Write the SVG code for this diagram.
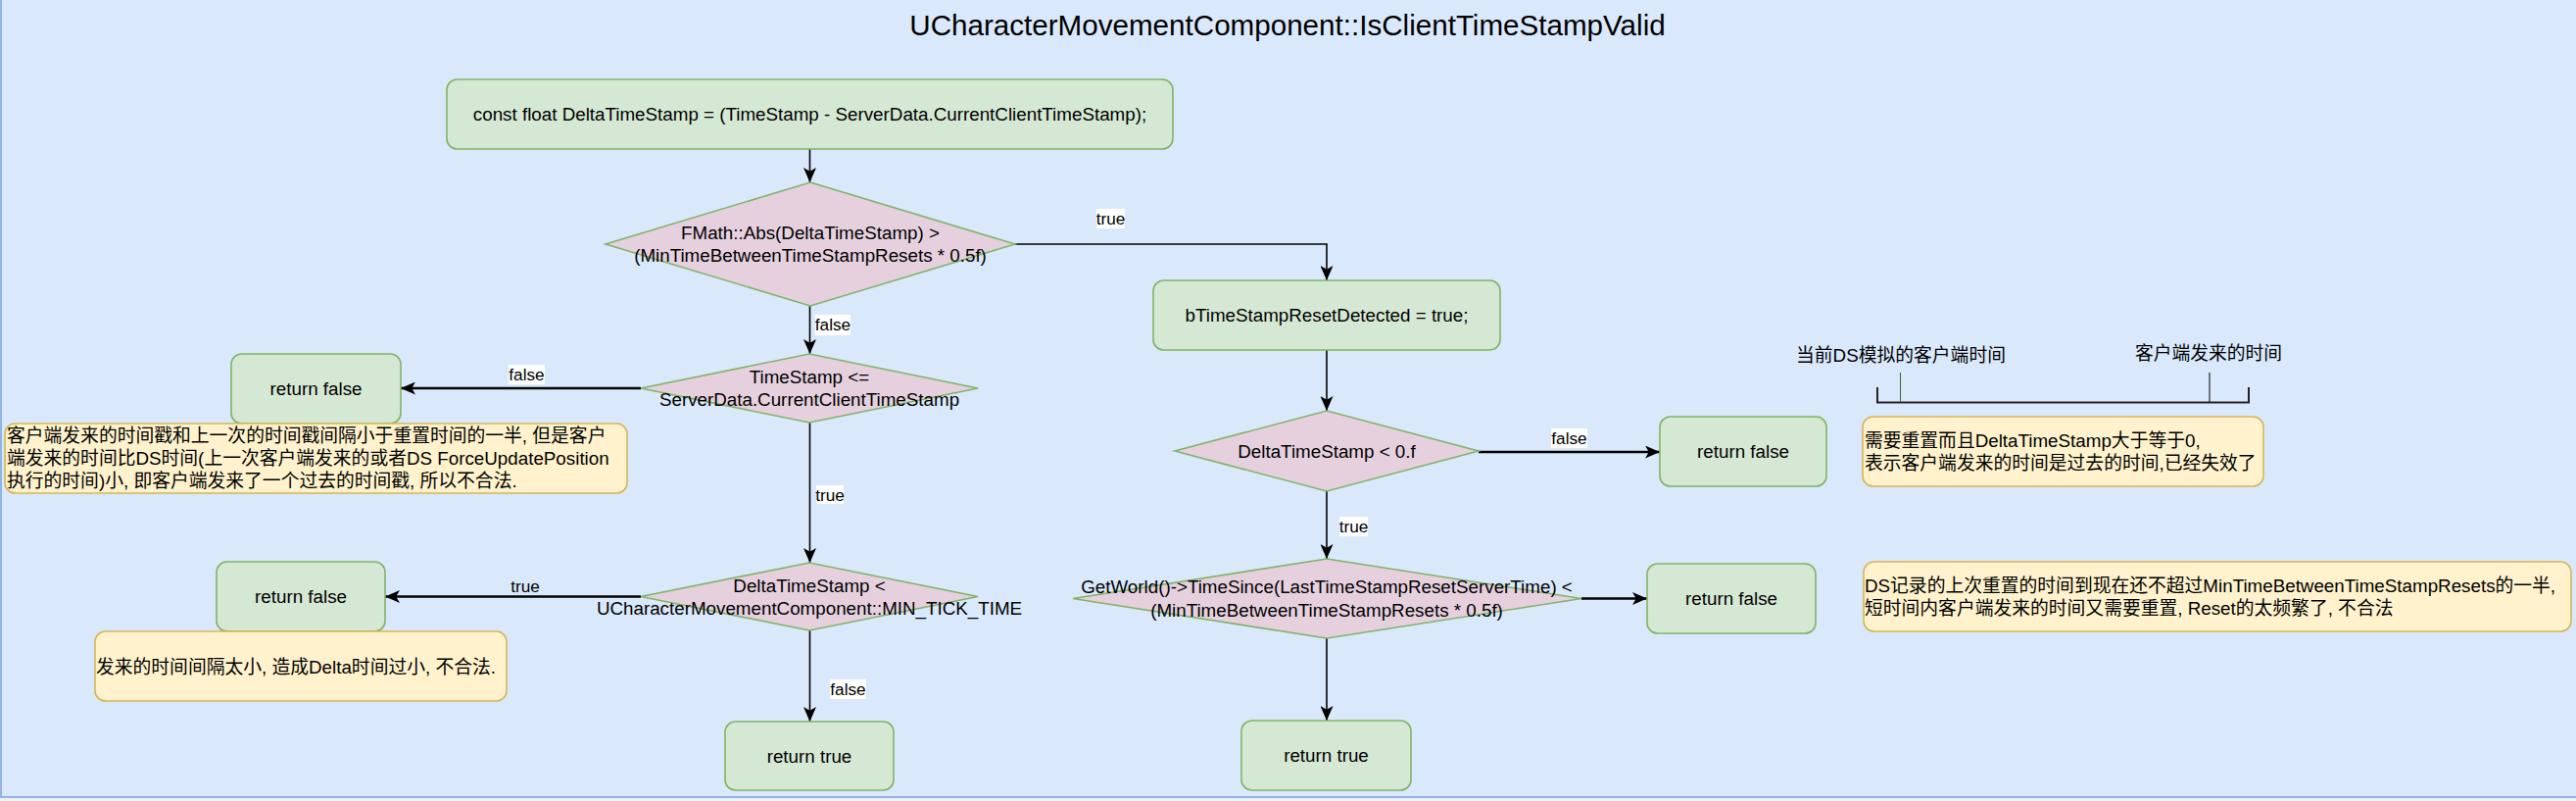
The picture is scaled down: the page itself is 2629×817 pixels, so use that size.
<svg xmlns="http://www.w3.org/2000/svg" width="2629" height="817" viewBox="0 0 2629 817">
<style>
text{font-family:"Liberation Sans","Noto Sans CJK SC",sans-serif;fill:#000;dominant-baseline:central}
.t{font-size:18.8px;text-anchor:middle}
.l{font-size:18.8px;text-anchor:start}
.title{font-size:29.6px;text-anchor:middle}
.lab{font-size:17.2px;text-anchor:middle}
.box{fill:#d5e8d4;stroke:#82b366;stroke-width:1.6}
.dia{fill:#e6d0de;stroke:#82b366;stroke-width:1.6}
.note{fill:#fff2cc;stroke:#d6b656;stroke-width:1.6}
.e{fill:none;stroke:#000;stroke-width:1.6}
.ek{fill:none;stroke:#000;stroke-width:2.6}
.lbg{fill:#fff}
</style>
<defs>
<marker id="arr" viewBox="0 0 15 13" refX="15" refY="6.5" markerWidth="15" markerHeight="13" markerUnits="userSpaceOnUse" orient="auto">
<path d="M15,6.5 L0,0 L3.8,6.5 L0,13 Z" fill="#000"/>
</marker>
</defs>
<rect x="0" y="0" width="2629" height="817" fill="#eef0f4"/>
<rect x="1" y="-5" width="2640" height="818" fill="#dae8fc" stroke="#7ea6e0" stroke-width="1.6"/>
<text class="title" x="1314" y="25">UCharacterMovementComponent::IsClientTimeStampValid</text>

<g id="connectors">
<path class="e" d="M826.5,152 L826.5,186" marker-end="url(#arr)"/>
<path class="e" d="M1036,249 L1354,249 L1354,286" marker-end="url(#arr)"/>
<path class="e" d="M826.5,312 L826.5,361" marker-end="url(#arr)"/>
<path class="ek" d="M654,396 L409,396" marker-end="url(#arr)"/>
<path class="e" d="M826.5,431 L826.5,574" marker-end="url(#arr)"/>
<path class="ek" d="M654,608.5 L393,608.5" marker-end="url(#arr)"/>
<path class="e" d="M826.5,643 L826.5,736" marker-end="url(#arr)"/>
<path class="e" d="M1354,357 L1354,419" marker-end="url(#arr)"/>
<path class="ek" d="M1509,461 L1694,461" marker-end="url(#arr)"/>
<path class="e" d="M1354,501 L1354,570" marker-end="url(#arr)"/>
<path class="ek" d="M1614,610.5 L1681,610.5" marker-end="url(#arr)"/>
<path class="e" d="M1354,651 L1354,735" marker-end="url(#arr)"/>
<rect class="lbg" x="1119" y="213" width="29" height="20"/>
<text class="lab" x="1133.5" y="223">true</text>
<rect class="lbg" x="832" y="321" width="36" height="21"/>
<text class="lab" x="850" y="331">false</text>
<rect class="lbg" x="519" y="372" width="37" height="20"/>
<text class="lab" x="537.5" y="382">false</text>
<rect class="lbg" x="833" y="495" width="28" height="19"/>
<text class="lab" x="847" y="505">true</text>
<text class="lab" x="536" y="598">true</text>
<rect class="lbg" x="847" y="693" width="37" height="20"/>
<text class="lab" x="865.5" y="703">false</text>
<rect class="lbg" x="1583" y="437" width="37" height="20"/>
<text class="lab" x="1601.5" y="447">false</text>
<rect class="lbg" x="1367" y="527" width="29" height="20"/>
<text class="lab" x="1381.5" y="537">true</text>
</g>

<g id="n-delta">
<rect class="box" x="456" y="81" width="741" height="71" rx="10.6"/>
<text class="t" x="826.5" y="116.5">const float DeltaTimeStamp = (TimeStamp - ServerData.CurrentClientTimeStamp);</text>
</g>
<g id="n-abs">
<path class="dia" d="M827,186 L1036,249 L827,312 L618,249 Z"/>
<text class="t" x="827" y="237.5">FMath::Abs(DeltaTimeStamp) &gt;</text>
<text class="t" x="827" y="260.5">(MinTimeBetweenTimeStampResets * 0.5f)</text>
</g>
<g id="n-reset">
<rect class="box" x="1177" y="286" width="354" height="71" rx="10.6"/>
<text class="t" x="1354" y="321.5">bTimeStampResetDetected = true;</text>
</g>
<g id="n-ts">
<path class="dia" d="M826,361 L998,396 L826,431 L654,396 Z"/>
<text class="t" x="826" y="384.5">TimeStamp &lt;=</text>
<text class="t" x="826" y="407.5">ServerData.CurrentClientTimeStamp</text>
</g>
<g id="n-rf1">
<rect class="box" x="236" y="361" width="173" height="71" rx="10.6"/>
<text class="t" x="322.5" y="396.5">return false</text>
</g>
<g id="n-note1">
<rect class="note" x="5" y="432" width="635" height="71" rx="10.6"/>
<text class="l" x="7" y="444.5">客户端发来的时间戳和上一次的时间戳间隔小于重置时间的一半, 但是客户</text>
<text class="l" x="7" y="467.5">端发来的时间比DS时间(上一次客户端发来的或者DS ForceUpdatePosition</text>
<text class="l" x="7" y="490.5">执行的时间)小, 即客户端发来了一个过去的时间戳, 所以不合法.</text>
</g>
<g id="n-min">
<path class="dia" d="M826,574 L998,608.5 L826,643 L654,608.5 Z"/>
<text class="t" x="826" y="597.5">DeltaTimeStamp &lt;</text>
<text class="t" x="826" y="620">UCharacterMovementComponent::MIN_TICK_TIME</text>
</g>
<g id="n-rf2">
<rect class="box" x="221" y="573" width="172" height="71" rx="10.6"/>
<text class="t" x="307" y="608.5">return false</text>
</g>
<g id="n-note2">
<rect class="note" x="97" y="644" width="420" height="71" rx="10.6"/>
<text class="l" x="98" y="680">发来的时间间隔太小, 造成Delta时间过小, 不合法.</text>
</g>
<g id="n-rt1">
<rect class="box" x="740" y="736" width="172" height="70" rx="10.5"/>
<text class="t" x="826" y="771">return true</text>
</g>
<g id="n-neg">
<path class="dia" d="M1354,419 L1509,460 L1354,501 L1199,460 Z"/>
<text class="t" x="1354" y="460">DeltaTimeStamp &lt; 0.f</text>
</g>
<g id="n-rf3">
<rect class="box" x="1694" y="425" width="170" height="71" rx="10.6"/>
<text class="t" x="1779" y="460.5">return false</text>
</g>
<g id="n-note3">
<rect class="note" x="1901" y="425" width="409" height="71" rx="10.6"/>
<text class="l" x="1903" y="449">需要重置而且DeltaTimeStamp大于等于0,</text>
<text class="l" x="1903" y="472">表示客户端发来的时间是过去的时间,已经失效了</text>
</g>
<g id="n-since">
<path class="dia" d="M1354,570 L1614,610.5 L1354,651 L1095,610.5 Z"/>
<text class="t" x="1354" y="598.5">GetWorld()-&gt;TimeSince(LastTimeStampResetServerTime) &lt;</text>
<text class="t" x="1354" y="622">(MinTimeBetweenTimeStampResets * 0.5f)</text>
</g>
<g id="n-rf4">
<rect class="box" x="1681" y="575" width="172" height="71" rx="10.6"/>
<text class="t" x="1767" y="610.5">return false</text>
</g>
<g id="n-note4">
<rect class="note" x="1902" y="573" width="722" height="71" rx="10.6"/>
<text class="l" x="1903" y="597.5">DS记录的上次重置的时间到现在还不超过MinTimeBetweenTimeStampResets的一半,</text>
<text class="l" x="1903" y="620">短时间内客户端发来的时间又需要重置, Reset的太频繁了, 不合法</text>
</g>
<g id="n-rt2">
<rect class="box" x="1267" y="735" width="173" height="71" rx="10.6"/>
<text class="t" x="1353.5" y="770.5">return true</text>
</g>
<g id="n-timeline">
<text class="t" x="1940" y="362">当前DS模拟的客户端时间</text>
<text class="t" x="2254" y="360">客户端发来的时间</text>
<path d="M1916,395 L1916,410.5 L2295,410.5 L2295,395" fill="none" stroke="#222" stroke-width="2"/>
<path d="M1939.5,380 L1939.5,410" fill="none" stroke="#2d6a1e" stroke-width="1"/>
<path d="M2255,380 L2255,410" fill="none" stroke="#000" stroke-width="1"/>
</g>
</svg>
